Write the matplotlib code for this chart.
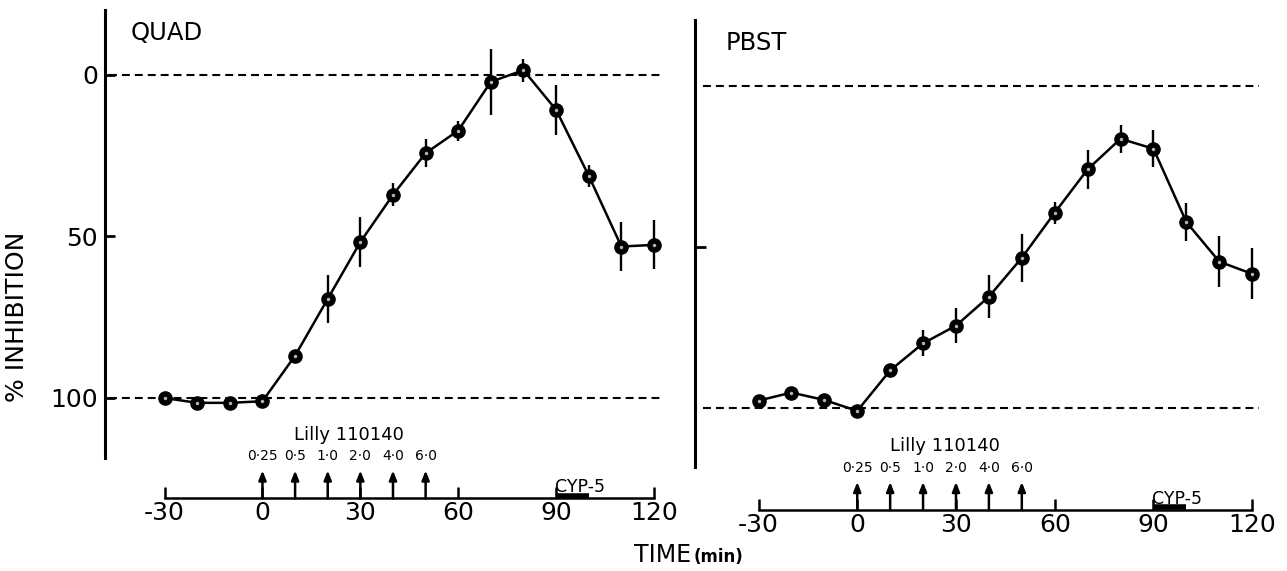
import matplotlib
matplotlib.use("Agg")
import matplotlib.pyplot as plt

plt.rcParams['font.family'] = ['DejaVu Sans']
plt.rcParams['axes.unicode_minus'] = False

W, H = 1287, 571

# data
time = [-30, -20, -10, 0, 10, 20, 30, 40, 50, 60, 70, 80, 90, 100, 110, 120]
quad = [100.0, 101.5, 101.5, 101.0, 86.9, 69.3, 51.7, 37.1, 24.2, 17.2, 2.1, -1.5, 10.8, 31.2, 53.1, 52.6]
quad_err = [0, 0, 0, 0, 0, 7.5, 7.6, 3.6, 4.4, 3.1, 10.2, 3.6, 7.7, 3.4, 7.7, 7.6]
pbst = [97.8, 95.3, 97.6, 101.0, 88.4, 80.0, 74.5, 65.5, 53.4, 39.4, 25.9, 16.4, 19.5, 42.3, 54.6, 58.4]
pbst_err = [0, 0, 0, 0, 0, 4.0, 5.4, 6.7, 7.5, 3.4, 6.0, 4.4, 5.7, 6.0, 7.9, 7.9]

dose_times = [0, 10, 20, 30, 40, 50]
dose_labels = ['0·25', '0·5', '1·0', '2·0', '4·0', '6·0']
drug_name = 'Lilly 110140'
cyp_start, cyp_end = 90, 100
time_ticks = [-30, 0, 30, 60, 90, 120]
ref_levels = [0, 100]


def panel(frame, xcal, ycal, spine_end, axis_px, vals, errs, title, title_xy, show_ylabels):
    x0, x1, y0, y1 = frame
    ax = fig.add_axes([x0 / W, 1 - y1 / H, (x1 - x0) / W, (y1 - y0) / H])
    sx = (xcal[1] - xcal[0]) / 150.0
    sy = (ycal[1] - ycal[0]) / 100.0
    to_t = lambda px: -30 + (px - xcal[0]) / sx
    to_v = lambda py: (py - ycal[0]) / sy
    ax.set_xlim(to_t(x0), to_t(x1))
    ax.set_ylim(to_v(y1), to_v(y0))
    ax.patch.set_visible(False)

    for s in ['top', 'right']:
        ax.spines[s].set_visible(False)
    axis_v = to_v(axis_px)
    ax.spines['left'].set_bounds(to_v(y0), to_v(spine_end))
    ax.spines['left'].set_linewidth(2.2)
    ax.spines['bottom'].set_position(('data', axis_v))
    ax.spines['bottom'].set_bounds(-30, 120)
    ax.spines['bottom'].set_linewidth(1.8)

    ax.set_xticks(time_ticks)
    ax.tick_params(axis='x', direction='in', length=8, width=1.8, labelsize=18, pad=2)
    if show_ylabels:
        ax.set_yticks([0, 50, 100])
        ax.tick_params(axis='y', direction='in', length=7, width=2, labelsize=18, pad=5)
    else:
        ax.set_yticks([50])
        ax.tick_params(axis='y', direction='in', length=8, width=2, labelleft=False)

    # reference dashed lines
    ax.hlines(ref_levels, -47, 122, colors='black', linestyles=(0, (3.8, 2.4)), lw=1.5)

    # data
    ax.errorbar(time, vals, yerr=errs, fmt='-', color='black', lw=1.8,
                elinewidth=1.7, capsize=0, zorder=3)
    ax.plot(time, vals, 'o', ms=9.5, mfc='black', mec='black', zorder=4)
    ax.plot(time, vals, 'o', ms=2.5, mfc='0.7', mec='none', zorder=5)

    # dosing arrows and labels
    for t, lbl in zip(dose_times, dose_labels):
        ax.annotate('', xy=(t, axis_v - 28 / sy), xytext=(t, axis_v),
                    arrowprops=dict(arrowstyle='-|>,head_length=0.55,head_width=0.22',
                                    lw=1.8, color='black', shrinkA=0, shrinkB=0))
        ax.annotate(lbl, xy=(t, axis_v), xytext=(0, 30.5), textcoords='offset points',
                    ha='center', va='center', fontsize=10)
    ax.annotate(drug_name, xy=(26.5, axis_v), xytext=(0, 46), textcoords='offset points',
                ha='center', va='center', fontsize=13)

    # CYP-5 infusion bar
    ax.plot([cyp_start, cyp_end], [axis_v - 2.5 / sy] * 2, color='black', lw=4,
            solid_capstyle='butt')
    ax.annotate('CYP-5', xy=(cyp_start, axis_v), xytext=(-1, 8), textcoords='offset points',
                ha='left', va='center', fontsize=12.5)

    fig.text(title_xy[0] / W, 1 - title_xy[1] / H, title, fontsize=17.5, va='baseline')
    return ax


fig = plt.figure(figsize=(W / 100, H / 100), dpi=100)

panel((105, 680, 10, 530), (164.6, 654.0), (75.0, 398.0), 458, 498.5,
      quad, quad_err, 'QUAD', (131, 40), True)
panel((695, 1282, 20, 545), (758.5, 1252.2), (86.0, 407.7), 466.7, 510,
      pbst, pbst_err, 'PBST', (726, 50), False)

fig.text(17 / W, 1 - 317 / H, '% INHIBITION', rotation=90, ha='center', va='center', fontsize=18)
fig.text(691 / W, 1 - 561.5 / H, 'TIME', ha='right', va='baseline', fontsize=17)
fig.text(694 / W, 1 - 561.5 / H, '(min)', ha='left', va='baseline', fontsize=12, weight='bold')

fig.savefig('out.png', dpi=100)
